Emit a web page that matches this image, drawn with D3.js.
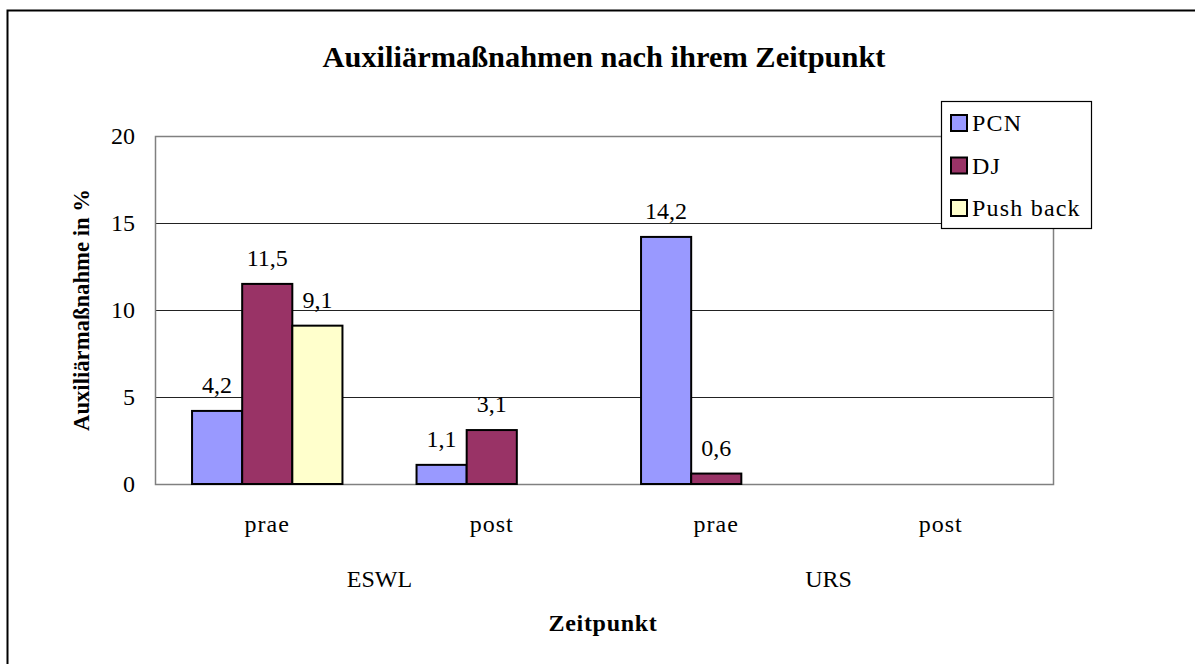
<!DOCTYPE html>
<html>
<head>
<meta charset="utf-8">
<script src="https://cdn.jsdelivr.net/npm/d3@7"></script>
<style>
  body { margin: 0; background: #fff; }
  text { font-family: "Liberation Serif", "Times New Roman", serif; fill: #000; }
</style>
</head>
<body>
<div id="chart"></div>
<script>
// data
const groups = ["ESWL", "URS"];
const categories = ["prae", "post", "prae", "post"];
const categoryGroup = ["ESWL", "ESWL", "URS", "URS"];
const series = ["PCN", "DJ", "Push back"];
const pcn = [4.2, 1.1, 14.2, 0];
const dj = [11.5, 3.1, 0.6, 0];
const pushBack = [9.1, 0, 0, 0];
const yTicks = [0, 5, 10, 15, 20];
const colors = ["#9999FF", "#993366", "#FFFFCC"];

const width = 1195;
const height = 664;
const plot = { left: 155, top: 136, right: 1053, bottom: 484 };

const svg = d3.select("#chart")
  .append("svg")
    .attr("width", width)
    .attr("height", height);

// outer frame
svg.append("rect")
  .attr("x", 7.5).attr("y", 10.5)
  .attr("width", width + 20).attr("height", height + 20)
  .attr("fill", "none")
  .attr("stroke", "#000")
  .attr("stroke-width", 2);

const values = [pcn, dj, pushBack];
const data = categories.map((c, i) => ({
  idx: i,
  cat: c,
  vals: series.map((s, j) => ({ key: s, j: j, value: values[j][i] }))
}));

// scales
const x0 = d3.scaleBand()
  .domain(d3.range(categories.length))
  .range([plot.left, plot.right])
  .paddingInner(0.33)
  .paddingOuter(0.165);

const x1 = d3.scaleBand()
  .domain(d3.range(series.length))
  .range([0, x0.bandwidth()]);

const y = d3.scaleLinear()
  .domain([0, 20])
  .range([plot.bottom, plot.top]);

// gridlines
svg.append("g")
  .selectAll("line")
  .data(yTicks.filter(t => t > 0 && t < 20))
  .join("line")
    .attr("x1", plot.left).attr("x2", plot.right)
    .attr("y1", d => Math.round(y(d)) + 0.5)
    .attr("y2", d => Math.round(y(d)) + 0.5)
    .attr("stroke", "#222")
    .attr("stroke-width", 1);

// plot frame
svg.append("rect")
  .attr("x", plot.left + 0.5).attr("y", plot.top + 0.5)
  .attr("width", plot.right - plot.left)
  .attr("height", plot.bottom - plot.top)
  .attr("fill", "none")
  .attr("stroke", "#808080")
  .attr("stroke-width", 1.5);

// y axis labels
const yAxis = d3.axisLeft(y).tickValues(yTicks).tickSize(0).tickPadding(20);
const yg = svg.append("g")
  .attr("transform", `translate(${plot.left},0)`)
  .call(yAxis);
yg.select(".domain").remove();
yg.selectAll("text")
  .style("font-size", "24px")
  .style("font-family", "Liberation Serif, serif")
  .attr("fill", "#000");

// bars
const bars = svg.append("g")
  .selectAll("g")
  .data(data)
  .join("g")
    .attr("transform", d => `translate(${x0(d.idx)},0)`);

bars.selectAll("rect")
  .data(d => d.vals.filter(v => v.value > 0))
  .join("rect")
    .attr("x", d => x1(d.j))
    .attr("y", d => y(d.value))
    .attr("width", x1.bandwidth())
    .attr("height", d => y(0) - y(d.value))
    .attr("fill", d => colors[d.j])
    .attr("stroke", "#000")
    .attr("stroke-width", 2);

bars.selectAll("text")
  .data(d => d.vals.filter(v => v.value > 0))
  .join("text")
    .attr("x", d => x1(d.j) + x1.bandwidth() / 2)
    .attr("y", d => y(d.value) - 18)
    .attr("text-anchor", "middle")
    .style("font-size", "24px")
    .text(d => d3.format(".1f")(d.value).replace(".", ","));

// category labels
svg.append("g")
  .selectAll("text")
  .data(data)
  .join("text")
    .attr("x", d => x0(d.idx) + x0.bandwidth() / 2)
    .attr("y", 532)
    .attr("text-anchor", "middle")
    .style("font-size", "24px")
    .style("letter-spacing", "1px")
    .text(d => d.cat);

// group labels
const step = (plot.right - plot.left) / categories.length;
svg.append("g")
  .selectAll("text")
  .data(groups)
  .join("text")
    .attr("x", g => {
      const idx = categoryGroup.map((c, i) => c === g ? i : -1).filter(i => i >= 0);
      return plot.left + step * (d3.mean(idx) + 0.5);
    })
    .attr("y", 587)
    .attr("text-anchor", "middle")
    .style("font-size", "24px")
    .text(g => g);

// title
svg.append("text")
  .attr("x", 604)
  .attr("y", 67)
  .attr("text-anchor", "middle")
  .attr("textLength", 563)
  .attr("lengthAdjust", "spacingAndGlyphs")
  .style("font-size", "30px")
  .style("font-weight", "bold")
  .text("Auxiliärmaßnahmen nach ihrem Zeitpunkt");

// axis titles
svg.append("text")
  .attr("transform", `translate(89,${(plot.top + plot.bottom) / 2}) rotate(-90)`)
  .attr("text-anchor", "middle")
  .attr("textLength", 242)
  .attr("lengthAdjust", "spacingAndGlyphs")
  .style("font-size", "23px")
  .style("font-weight", "bold")
  .text("Auxiliärmaßnahme in %");

svg.append("text")
  .attr("x", 603)
  .attr("y", 631)
  .attr("text-anchor", "middle")
  .style("font-size", "24px")
  .style("font-weight", "bold")
  .style("letter-spacing", "0.7px")
  .text("Zeitpunkt");

// legend
const legend = svg.append("g").attr("transform", "translate(941,101)");
legend.append("rect")
  .attr("x", 0.5).attr("y", 0.5)
  .attr("width", 150).attr("height", 127)
  .attr("fill", "#fff")
  .attr("stroke", "#000")
  .attr("stroke-width", 1.2);

const items = legend.selectAll("g")
  .data(series)
  .join("g")
    .attr("transform", (d, i) => `translate(10,${22 + i * 42.5})`);
items.append("rect")
  .attr("x", 0).attr("y", -8)
  .attr("width", 16).attr("height", 16)
  .attr("fill", (d, i) => colors[i])
  .attr("stroke", "#000")
  .attr("stroke-width", 2);
items.append("text")
  .attr("x", 21)
  .attr("y", 8)
  .style("font-size", "24px")
  .style("letter-spacing", "1.2px")
  .text(d => d);
</script>
</body>
</html>
